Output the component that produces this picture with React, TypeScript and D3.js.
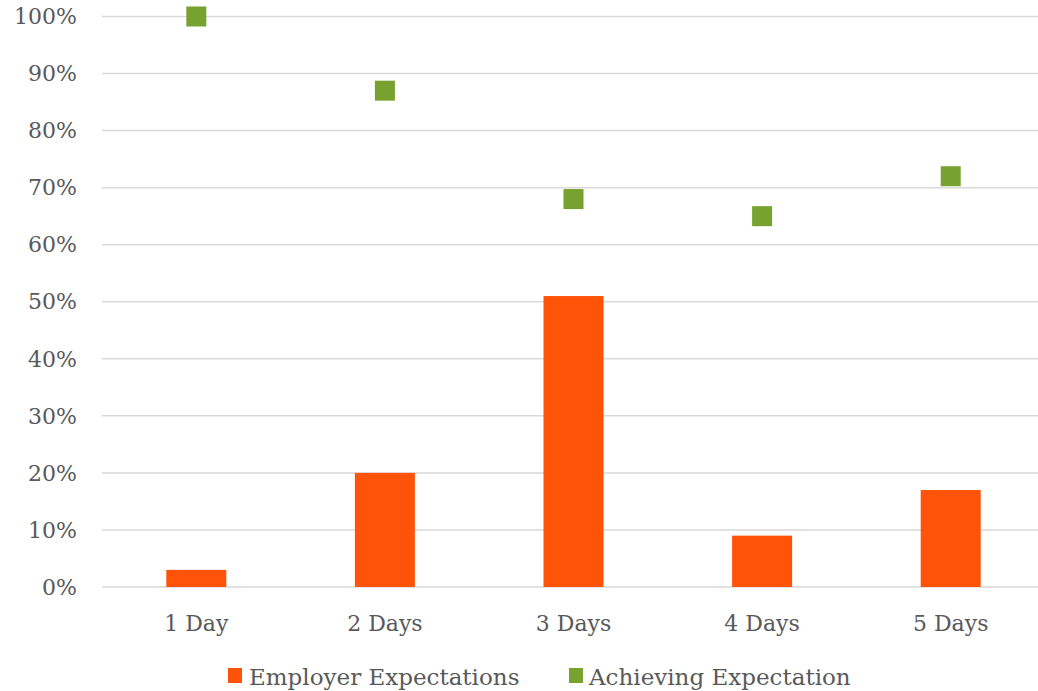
import React from "react";
import * as d3 from "d3";

const categories = ["1 Day", "2 Days", "3 Days", "4 Days", "5 Days"];
const employerExpectations = [0.03, 0.2, 0.51, 0.09, 0.17];
const achievingExpectation = [1.0, 0.87, 0.68, 0.65, 0.72];
const yTicks = [0, 0.1, 0.2, 0.3, 0.4, 0.5, 0.6, 0.7, 0.8, 0.9, 1.0];

const W = 1038;
const H = 691;
const FONT = "'DejaVu Serif', Georgia, serif";
const TEXT = "#595959";
const ORANGE = "#ff5309";
const GREEN = "#77a22f";

export default function App() {
  const x = d3.scaleBand<string>().domain(categories).range([102, 1045]).paddingInner(0).paddingOuter(0);
  const y = d3.scaleLinear().domain([0, 1]).range([587, 16.5]);
  const barW = 60;
  const fmt = d3.format(".0%");
  return (
    <svg width={W} height={H} style={{ position: "absolute", left: 0, top: 0, background: "#fff" }}>
      {yTicks.map((t) => (
        <g key={t}>
          <line x1={102} x2={W} y1={y(t)} y2={y(t)} stroke="#d9d9d9" strokeWidth={1.5} />
          <text x={77} y={y(t)} dy="0.35em" textAnchor="end" fontFamily={FONT} fontSize={22} fill={TEXT}>
            {fmt(t)}
          </text>
        </g>
      ))}
      {categories.map((c, i) => (
        <rect key={c} x={x(c)! + x.bandwidth() / 2 - barW / 2} y={y(employerExpectations[i])} width={barW}
          height={y(0) - y(employerExpectations[i])} fill={ORANGE} />
      ))}
      {categories.map((c, i) => (
        <rect key={c + "m"} x={x(c)! + x.bandwidth() / 2 - 10} y={y(achievingExpectation[i]) - 10} width={20}
          height={20} fill={GREEN} />
      ))}
      {categories.map((c) => (
        <text key={c + "l"} x={x(c)! + x.bandwidth() / 2} y={631} textAnchor="middle" fontFamily={FONT} fontSize={22} fill={TEXT}>
          {c}
        </text>
      ))}
      <rect x={228} y={668} width={14} height={15} fill={ORANGE} />
      <text x={249} y={685} fontFamily={FONT} fontSize={23} fill={TEXT}>Employer Expectations</text>
      <rect x={569} y={668} width={14} height={15} fill={GREEN} />
      <text x={589} y={685} fontFamily={FONT} fontSize={23} fill={TEXT}>Achieving Expectation</text>
    </svg>
  );
}
